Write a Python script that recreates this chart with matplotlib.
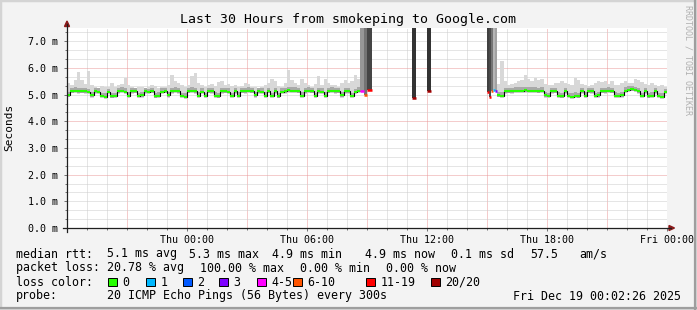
import numpy as np
import matplotlib
matplotlib.use("Agg")
import matplotlib.pyplot as plt
from matplotlib.patches import Rectangle, Polygon
from matplotlib.lines import Line2D

W, H = 697, 310
MONO = "DejaVu Sans Mono"
plt.rcParams["font.family"] = MONO

# ---- data: hours since Wed 18:00, rtt in ms, 10 minute bins ----
BIN = 1 / 6

seg1_start = 0.0
seg1_median = [
    4.98, 5.13, 5.14, 5.12, 5.13, 5.12, 5.10, 4.97, 5.12, 5.11, 4.95,
    4.93, 5.10, 4.94, 4.95, 5.12, 5.14, 5.11, 4.96, 5.12, 5.13, 4.95,
    4.97, 5.12, 5.10, 5.13, 4.94, 4.96, 5.11, 5.13, 4.97, 5.12, 5.14,
    5.12, 4.95, 4.93, 5.13, 5.15, 5.12, 4.96, 5.11, 4.95, 5.13, 5.12,
    4.96, 4.94, 5.12, 5.13, 5.11, 4.95, 5.12, 4.96, 5.13, 5.12, 5.14,
    5.13, 4.97, 5.12, 5.11, 4.96, 5.13, 4.95, 5.12, 4.94, 5.11, 5.12,
    5.16, 5.15, 5.14, 5.13, 4.96, 5.12, 5.14, 5.13, 4.95, 5.12, 5.11,
    4.96, 5.13, 5.14, 5.12, 5.13, 4.97, 5.12, 5.12, 4.95, 5.10, 5.14,
]
seg1_smoke = [
    5.45, 5.35, 5.55, 5.85, 5.55, 5.40, 5.90, 5.35, 5.30, 5.25, 5.32,
    5.30, 5.28, 5.45, 5.30, 5.38, 5.40, 5.62, 5.35, 5.30, 5.25, 5.30,
    5.28, 5.26, 5.30, 5.38, 5.32, 5.25, 5.30, 5.28, 5.35, 5.75, 5.50,
    5.42, 5.38, 5.30, 5.35, 5.70, 5.82, 5.45, 5.38, 5.30, 5.35, 5.40,
    5.32, 5.48, 5.52, 5.35, 5.40, 5.33, 5.38, 5.30, 5.32, 5.45, 5.40,
    5.28, 5.30, 5.26, 5.30, 5.35, 5.45, 5.58, 5.50, 5.32, 5.30, 5.42,
    5.92, 5.55, 5.42, 5.38, 5.60, 5.45, 5.35, 5.30, 5.40, 5.70, 5.38,
    5.58, 5.45, 5.35, 5.38, 5.30, 5.45, 5.55, 5.42, 5.50, 5.72, 5.60,
]

seg2_start = 21.5
seg2_median = [
    4.98, 4.96, 5.12, 5.13, 5.12, 5.14, 5.15, 5.14, 5.16, 5.15,
    5.14, 5.15, 5.13, 5.14, 4.97, 4.95, 5.12, 5.13, 4.96, 4.94,
    5.12, 4.95, 4.93, 4.96, 4.94, 5.12, 4.96, 5.13, 5.12, 4.95,
    4.97, 5.13, 5.12, 5.14, 5.13, 4.96, 4.95, 4.97, 5.14, 5.18,
    5.20, 5.17, 5.12, 4.95, 5.12, 4.94, 4.96, 5.12, 4.95, 4.93,
    5.10,
]
seg2_smoke = [
    5.40, 6.25, 5.50, 5.35, 5.40, 5.45, 5.50, 5.55, 5.72, 5.60,
    5.50, 5.62, 5.55, 5.58, 5.40, 5.35, 5.38, 5.45, 5.42, 5.50,
    5.45, 5.40, 5.35, 5.62, 5.55, 5.40, 5.35, 5.32, 5.38, 5.42,
    5.50, 5.48, 5.52, 5.40, 5.50, 5.38, 5.35, 5.42, 5.50, 5.45,
    5.42, 5.60, 5.55, 5.48, 5.40, 5.35, 5.45, 5.38, 5.32, 5.35,
    5.30,
]

# intervals with packet loss (smoke runs off the top)
burst_start = [14.67, 14.85, 15.00, 17.25, 18.00, 21.00, 21.10, 21.20, 21.30, 21.40]
burst_end = [14.85, 15.00, 15.25, 17.45, 18.20, 21.10, 21.20, 21.30, 21.40, 21.50]
burst_median = [5.12, 4.97, 5.18, 4.88, 5.12, 5.11, 4.92, 5.14, 5.17, 5.15]
burst_loss = [4, 8, 15, 20, 20, 16, 14, 8, 1, 3]

x_ticks = [6, 12, 18, 24, 30]
x_labels = ["Thu 00:00", "Thu 06:00", "Thu 12:00", "Thu 18:00", "Fri 00:00"]
y_ticks = [0, 1, 2, 3, 4, 5, 6, 7]

loss_names = ["0", "1", "2", "3", "4-5", "6-10", "11-19", "20/20"]
loss_colors = ["#26ff00", "#00b8ff", "#0059ff", "#7e00ff", "#ff00ff",
               "#ff5500", "#ff0000", "#a00000"]

legend_rtt = ["5.1 ms avg", "5.3 ms max", "4.9 ms min", "4.9 ms now",
              "0.1 ms sd", "57.5", "am/s"]
legend_loss = ["20.78 % avg", "100.00 % max", "0.00 % min", "0.00 % now"]
probe_text = "20 ICMP Echo Pings (56 Bytes) every 300s"
stamp_text = "Fri Dec 19 00:02:26 2025"


def loss_color(n):
    if n == 0:
        return loss_colors[0]
    if n <= 3:
        return loss_colors[n]
    if n <= 5:
        return loss_colors[4]
    if n <= 10:
        return loss_colors[5]
    if n <= 19:
        return loss_colors[6]
    return loss_colors[7]


def px(x, y):
    return x / W, 1 - y / H


fig = plt.figure(figsize=(W / 100, H / 100), dpi=100, facecolor="#f3f3f3")
# frame shading like rrdtool
fig.add_artist(Rectangle((0, 0), 1, 1, transform=fig.transFigure,
                         fill=False, ec="#d4d4d4", lw=2.5))
fig.add_artist(Line2D([1 - 2 / W, 1 - 2 / W], [0, 1], color="#9e9e9e", lw=1.6))
fig.add_artist(Line2D([0, 1], [2 / H, 2 / H], color="#9e9e9e", lw=1.6))

ax = fig.add_axes([67 / W, (H - 228) / H, 600 / W, 200 / H])
ax.set_facecolor("white")
ax.set_xlim(0, 30)
ax.set_ylim(0, 7.5)
for s in ax.spines.values():
    s.set_visible(False)

# grid
for h in range(1, 30):
    major = h % 3 == 0
    ax.axvline(h, color="#eb9a9a" if major else "#cccccc", lw=0.72,
               ls=(0, (1, 1)), zorder=0.5)
ax.axvline(30, color="#eb9a9a", lw=0.72, ls=(0, (1, 1)), zorder=0.5)
for k in range(1, 23):
    major = k % 6 == 0
    ax.axhline(k / 3, color="#eb9a9a" if major else "#cccccc", lw=0.72,
               ls=(0, (1, 1)), zorder=0.5)


def draw_segment(start, median, smoke):
    med = np.array(median)
    hi = np.array(smoke)
    edges = start + np.arange(len(med) + 1) * BIN
    ax.stairs(hi, edges, baseline=med - 0.08, fill=True, color="#d8d8d8", lw=0, zorder=1)
    ax.stairs(np.minimum(hi, med + 0.13), edges, baseline=med - 0.05, fill=True,
              color="#a9a9a9", lw=0, zorder=1.2)
    ax.stairs(med, edges, baseline=None, color="black", lw=0.8, zorder=2)
    ax.hlines(med, edges[:-1], edges[1:], color=loss_colors[0], lw=1.5, zorder=2.5)


draw_segment(seg1_start, seg1_median, seg1_smoke)
draw_segment(seg2_start, seg2_median, seg2_smoke)

for s, e, m, n in zip(burst_start, burst_end, burst_median, burst_loss):
    g = 0.2 + 0.55 * (1 - n / 20) ** 1.5
    ax.fill_between([s, e], m, 7.5, color=(g, g, g), lw=0, zorder=1.5)
    ax.hlines(m, s, e, color=loss_color(n), lw=1.8, zorder=3)

# ticks
ax.set_xticks(x_ticks)
ax.set_xticklabels(x_labels)
ax.set_xticks(range(0, 31), minor=True)
ax.set_yticks(y_ticks)
ax.set_yticklabels([f"{v:.1f} m" for v in y_ticks])
ax.set_yticks([k / 3 for k in range(0, 23)], minor=True)
ax.tick_params(which="both", direction="out", color="#707070", width=0.7,
               labelsize=7.2, labelcolor="black")
ax.tick_params(which="major", length=2.2)
ax.tick_params(which="minor", length=1.4)
ax.tick_params(axis="x", pad=2.6)
ax.tick_params(axis="y", pad=4.2)

# axes with arrows
fig.add_artist(Line2D(*zip(px(67, 232), px(67, 24)), color="#202020", lw=0.9))
fig.add_artist(Line2D(*zip(px(63, 228), px(671, 228)), color="#202020", lw=0.9))
fig.add_artist(Polygon([px(64.5, 26.5), px(69.5, 26.5), px(67, 21)],
                       closed=True, transform=fig.transFigure, color="#8b1a1a"))
fig.add_artist(Polygon([px(669, 225.5), px(669, 230.5), px(674.5, 228)],
                       closed=True, transform=fig.transFigure, color="#8b1a1a"))

# titles
fig.text(*px(348, 19), "Last 30 Hours from smokeping to Google.com",
         ha="center", va="center", fontsize=9.5)
fig.text(*px(9, 127), "Seconds", rotation=90, ha="center", va="center", fontsize=8)
fig.text(*px(688, 60), "RRDTOOL / TOBI OETIKER", rotation=270, ha="center",
         va="center", fontsize=6, color="#b0b0b0")

# legend block
FS = 8.4
fig.text(*px(16, 254), "median rtt:", va="center", fontsize=FS)
for xpos, txt in zip([107, 189, 272, 365, 451, 530, 579], legend_rtt):
    fig.text(*px(xpos, 254), txt, va="center", fontsize=FS)

fig.text(*px(16, 268), "packet loss:", va="center", fontsize=FS)
for xpos, txt in zip([107, 200, 300, 386], legend_loss):
    fig.text(*px(xpos, 268), txt, va="center", fontsize=FS)

fig.text(*px(16, 282), "loss color:", va="center", fontsize=FS)
box_x = [108, 146, 183, 219, 257, 293, 366, 431]
for bx, name, col in zip(box_x, loss_names, loss_colors):
    x0, y0 = px(bx, 286)
    fig.add_artist(Rectangle((x0, y0), 8.5 / W, 8.5 / H, transform=fig.transFigure,
                             fc=col, ec="black", lw=0.7))
    fig.text(*px(bx + 14.5, 282), name, va="center", fontsize=FS)

fig.text(*px(16, 296), "probe:", va="center", fontsize=FS)
fig.text(*px(107, 296), probe_text, va="center", fontsize=FS)
fig.text(*px(681, 296), stamp_text, va="center", ha="right", fontsize=FS)

fig.savefig("out.png", dpi=100, facecolor=fig.get_facecolor())
